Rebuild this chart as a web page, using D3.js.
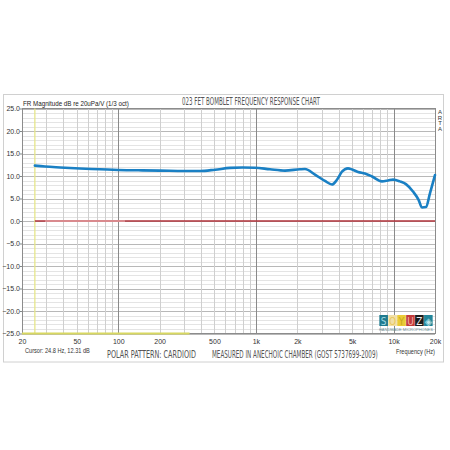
<!DOCTYPE html>
<html><head><meta charset="utf-8">
<script src="https://cdn.jsdelivr.net/npm/d3@7"></script>
<style>body{margin:0;background:#fff}svg{display:block}</style>
</head><body>
<svg id="c" width="450" height="450"></svg>
<script>
// ---- data ----
const respFreq = [24.8, 29.4, 37.8, 52.8, 73.7, 100, 150, 201, 300, 393, 505, 648, 800, 984, 1265, 1627, 2091, 2272, 2688, 3175, 3573, 3868, 4219, 4666, 5000, 5520, 6200, 6970, 8240, 9130, 9910, 11140, 12300, 13840, 15200, 16080, 17200, 18400, 20000];
const respDb   = [12.31, 12.1, 11.9, 11.67, 11.5, 11.35, 11.25, 11.2, 11.1, 11.1, 11.4, 11.8, 11.9, 11.85, 11.5, 11.2, 11.5, 11.55, 10.3, 8.9, 8.1, 9.1, 10.95, 11.7, 11.45, 10.9, 10.55, 9.9, 8.8, 9.0, 9.2, 8.8, 8.2, 6.55, 4.7, 3.0, 3.1, 6.2, 10.2];
const refFreq = [24.8, 20000];
const refDb = [0, 0];
const refHiFreq = [29.4, 112];
const refHiDb = [0, 0];
const cursorFreq = 24.8;
const cursorDb = 12.31;
const bandFreq = [20, 330];
const bandDb = [-25, -25];
const xTickVals = [20, 50, 100, 200, 500, 1000, 2000, 5000, 10000, 20000];
const xTickLabels = ["20", "50", "100", "200", "500", "1k", "2k", "5k", "10k", "20k"];
const xMinor = [20,30,40,50,60,70,80,90,100,200,300,400,500,600,700,800,900,1000,2000,3000,4000,5000,6000,7000,8000,9000,10000,20000];
const xMajor = [100, 1000, 10000];
const yTickVals = [25, 20, 15, 10, 5, 0, -5, -10, -15, -20, -25];
const title = "023 FET BOMBLET FREQUENCY RESPONSE CHART";
const yTitle = "FR Magnitude dB re 20uPa/V (1/3 oct)";
const xTitle = "Frequency (Hz)";
const footer1 = "POLAR PATTERN: CARDIOID";
const footer2 = "MEASURED IN ANECHOIC CHAMBER (GOST 5737699-2009)";
const logoLetters = ["S", "O", "Y", "U", "Z", "◈"];

// ---- layout ----
const svg = d3.select("#c");
const L = 22, R = 435, T = 108.5, B = 333.5;
const x = d3.scaleLog().domain([20, 20000]).range([L, R]);
const y = d3.scaleLinear().domain([-25, 25]).range([B, T]);

// outer frame
svg.append("rect").attr("x", 3.5).attr("y", 94.5).attr("width", 440).attr("height", 267.5)
  .attr("fill", "#fff").attr("stroke", "#d0d0d0").attr("stroke-width", 1);

// horizontal grid (1 dB)
const g = svg.append("g");
g.selectAll("line.hm").data(d3.range(-25, 26, 1)).join("line")
  .attr("x1", L).attr("x2", R)
  .attr("y1", d => Math.round(y(d)) + 0.5).attr("y2", d => Math.round(y(d)) + 0.5)
  .attr("stroke", d => d % 5 === 0 ? "#b8b8b8" : "#e4e4e4").attr("stroke-width", 1);
// vertical grid
g.selectAll("line.vm").data(xMinor).join("line")
  .attr("y1", T).attr("y2", B)
  .attr("x1", d => Math.round(x(d)) + 0.5).attr("x2", d => Math.round(x(d)) + 0.5)
  .attr("stroke", d => xMajor.includes(d) ? "#8a8a8a" : "#cfcfcf").attr("stroke-width", 1);

// plot border
svg.append("rect").attr("x", L + 0.5).attr("y", T).attr("width", R - L).attr("height", B - T)
  .attr("fill", "none").attr("stroke", "#8c8c8c");

const sans = "Arial, 'Liberation Sans', sans-serif";
const thin = "'DejaVu Sans Condensed', 'DejaVu Sans', sans-serif";

// axes via d3
const yAxis = d3.axisLeft(y).tickValues(yTickVals).tickFormat(d3.format(".1f")).tickSize(2);
const ya = svg.append("g").attr("transform", `translate(${L},0)`).call(yAxis);
ya.select(".domain").remove();
ya.selectAll("line").attr("stroke", "#888");
ya.selectAll("text").attr("font-family", sans).attr("font-size", 7).attr("fill", "#333").attr("x", -2);

const xAxis = d3.axisBottom(x).tickValues(xTickVals).tickFormat((d, i) => xTickLabels[i]).tickSize(0);
const xa = svg.append("g").attr("transform", `translate(0,${B})`).call(xAxis);
xa.select(".domain").remove();
xa.selectAll("text").attr("font-family", sans).attr("font-size", 7).attr("fill", "#333")
  .attr("dy", null).attr("y", 10);

// cursor line (yellow)
svg.append("line").attr("x1", x(cursorFreq)).attr("x2", x(cursorFreq)).attr("y1", T).attr("y2", B)
  .attr("stroke", "#e6e68a").attr("stroke-width", 1.3);
// yellow band at bottom
const lineF = d3.line().x(d => x(d[0])).y(d => y(d[1]));
svg.append("path").attr("d", lineF(d3.zip(bandFreq, bandDb))).attr("fill", "none")
  .attr("stroke", "#d8d860").attr("stroke-width", 2.2);

// reference (red) line
svg.append("path").attr("d", lineF(d3.zip(refFreq, refDb))).attr("fill", "none")
  .attr("stroke", "#b0323a").attr("stroke-width", 1.3);
svg.append("path").attr("d", lineF(d3.zip(refHiFreq, refHiDb))).attr("fill", "none")
  .attr("stroke", "#d98a8e").attr("stroke-width", 2.2);

// response (blue) curve
const curve = d3.line().x(d => x(d[0])).y(d => y(d[1])).curve(d3.curveMonotoneX);
svg.append("path").attr("d", curve(d3.zip(respFreq, respDb))).attr("fill", "none")
  .attr("stroke", "#1a80c4").attr("stroke-width", 2.6).attr("stroke-linejoin", "round").attr("stroke-linecap", "round");

// fitted text: scales horizontally so it spans exactly `w` pixels
function fitText(str, tx, ty, w, font, size, weight, color) {
  const t = svg.append("text").text(str)
    .attr("font-family", font).attr("font-size", size).attr("font-weight", weight).attr("fill", color);
  const nat = t.node().getComputedTextLength();
  t.attr("transform", `translate(${tx},${ty}) scale(${w / nat},1)`);
  return t;
}
fitText(title, 182, 105, 138, thin, 10.5, 200, "#555");
fitText(yTitle, 23, 106, 106, sans, 7.2, 400, "#222");
["A","R","T","A"].forEach((c, i) => {
  svg.append("text").attr("x", 440).attr("y", 114 + i * 5.6).text(c)
    .attr("text-anchor", "middle").attr("font-family", sans).attr("font-size", 6).attr("fill", "#333");
});
fitText(`Cursor: ${cursorFreq} Hz, ${cursorDb} dB`, 25, 353, 65, sans, 6.8, 400, "#333");
fitText(footer1, 107, 358, 89, thin, 10.5, 200, "#555");
fitText(footer2, 212, 358, 166, thin, 10.5, 200, "#555");
fitText(xTitle, 396, 354, 39, sans, 6.8, 400, "#333");

// logo
const logoBg = ["#1f7a8e", "#f1dfa6", "#eacb35", "#c23a3a", "#1b1b1b", "#23869a"];
const logoFg = ["#9fd8e0", "#e8c85a", "#c9a820", "#f2b0a8", "#f0f0f0", "#bfe6ea"];
const lg = svg.append("g");
const lx = d3.scaleBand().domain(d3.range(6)).range([379, 433]).padding(0.04);
lg.selectAll("rect").data(logoLetters).join("rect")
  .attr("x", (d, i) => lx(i)).attr("y", 315).attr("width", lx.bandwidth()).attr("height", 11)
  .attr("fill", (d, i) => logoBg[i]);
lg.selectAll("text").data(logoLetters).join("text")
  .attr("x", (d, i) => lx(i) + lx.bandwidth() / 2).attr("y", 324.5).text(d => d)
  .attr("text-anchor", "middle").attr("font-family", thin).attr("font-weight", 200).attr("font-size", 10)
  .attr("fill", (d, i) => logoFg[i]);
fitText("HANDMADE MICROPHONES", 379, 331, 54, sans, 3, 400, "#6a8a90");
</script>
</body></html>
